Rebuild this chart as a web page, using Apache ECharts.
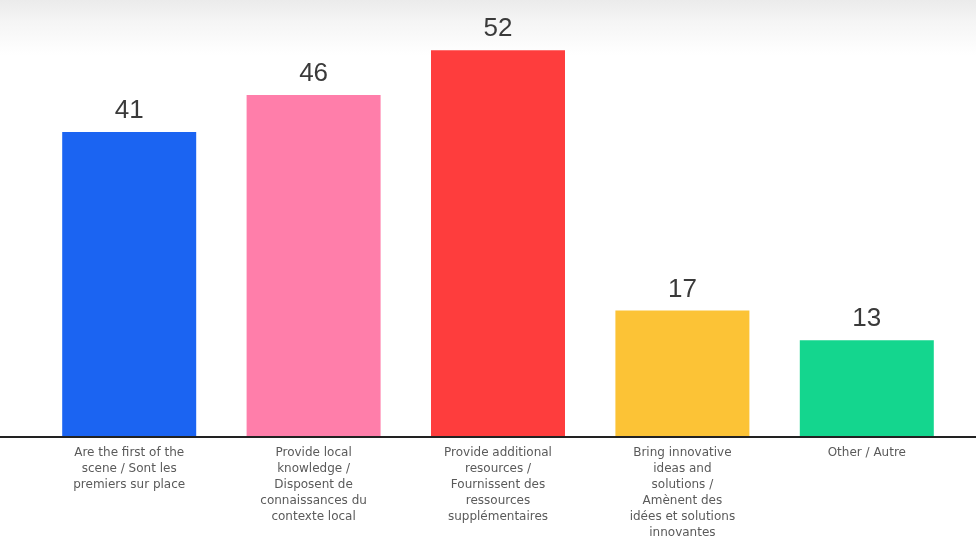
<!DOCTYPE html>
<html>
<head>
<meta charset="utf-8">
<script src="https://cdn.jsdelivr.net/npm/echarts@6/dist/echarts.min.js"></script>
<style>
  html, body { margin: 0; padding: 0; }
  #chart { width: 976px; height: 551px; }
</style>
</head>
<body>
<div id="chart"></div>
<script>
// categories (line breaks as in the picture)
var categories = [
  'Are the first of the\nscene / Sont les\npremiers sur place',
  'Provide local\nknowledge /\nDisposent de\nconnaissances du\ncontexte local',
  'Provide additional\nresources /\nFournissent des\nressources\nsupplémentaires',
  'Bring innovative\nideas and\nsolutions /\nAmènent des\nidées et solutions\ninnovantes',
  'Other / Autre'
];
var values = [41, 46, 52, 17, 13];
var colors = ['#1b64f2', '#ff7eaa', '#fe3d3d', '#fcc336', '#14d68e'];

var myChart = echarts.init(document.getElementById('chart'));

var option = {
  backgroundColor: {
    type: 'linear', x: 0, y: 0, x2: 0, y2: 1,
    colorStops: [
      { offset: 0, color: '#ebebeb' },
      { offset: 0.04, color: '#f5f5f5' },
      { offset: 0.1, color: '#ffffff' },
      { offset: 1, color: '#ffffff' }
    ]
  },
  grid: { left: 37, right: 17, top: 28, bottom: 114 },
  xAxis: {
    type: 'category',
    data: categories,
    axisLine: { lineStyle: { color: '#222', width: 2 } },
    axisTick: { show: false },
    axisLabel: {
      interval: 0,
      color: '#5a5a5a',
      fontFamily: 'DejaVu Sans',
      fontSize: 12,
      lineHeight: 16,
      margin: 8
    }
  },
  yAxis: {
    type: 'value',
    min: 0,
    max: 55,
    show: false
  },
  // the baseline runs across the whole picture
  graphic: [{
    type: 'line',
    shape: { x1: 0, y1: 437, x2: 976, y2: 437 },
    style: { stroke: '#222', lineWidth: 2 },
    z: 10
  }],
  series: [{
    type: 'bar',
    barWidth: 134,
    data: values.map(function (v, i) {
      return { value: v, itemStyle: { color: colors[i] } };
    }),
    label: {
      show: true,
      position: 'top',
      distance: 8,
      color: '#3a3a3a',
      fontFamily: 'Liberation Sans',
      fontSize: 26
    }
  }]
};

myChart.setOption(option);
</script>
</body>
</html>
